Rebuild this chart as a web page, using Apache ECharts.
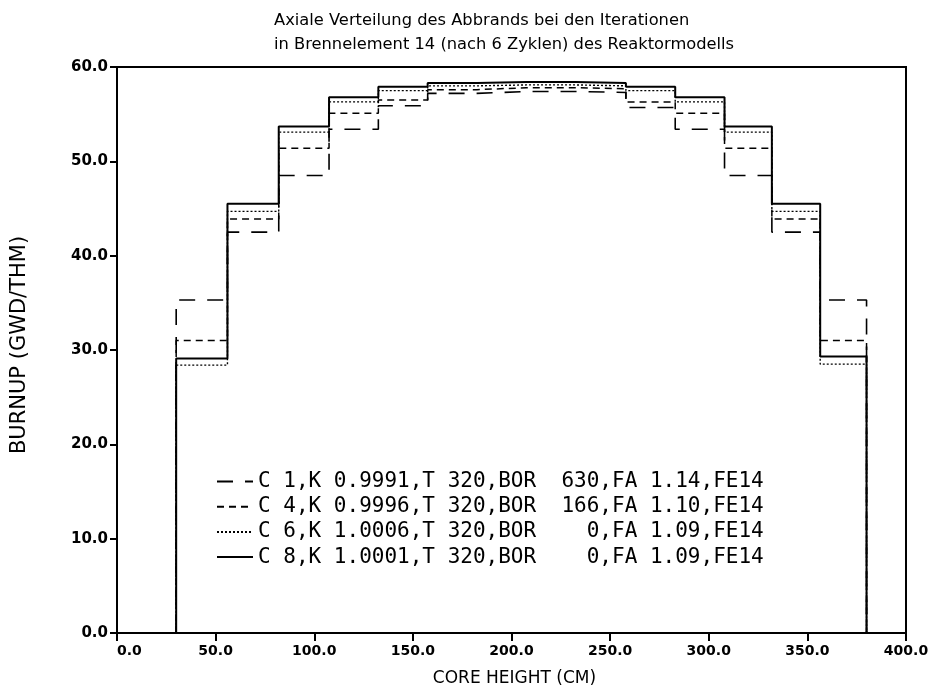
<!DOCTYPE html>
<html>
<head>
<meta charset="utf-8">
<script src="https://cdn.jsdelivr.net/npm/echarts@6/dist/echarts.min.js"></script>
<style>html,body{margin:0;padding:0;background:#fff}#c{width:940px;height:697px}</style>
</head>
<body>
<div id="c"></div>
<script>
// Node boundaries along core height (cm)
var boundaries = [30, 56, 82, 107.5, 132.5, 157.5, 182.5, 207.5, 232.5, 258, 283, 308, 332, 356.5, 380];
var seriesNames = [
  'C 1,K 0.9991,T 320,BOR  630,FA 1.14,FE14',
  'C 4,K 0.9996,T 320,BOR  166,FA 1.10,FE14',
  'C 6,K 1.0006,T 320,BOR    0,FA 1.09,FE14',
  'C 8,K 1.0001,T 320,BOR    0,FA 1.09,FE14'
];
var burnupC1 = [35.3, 42.5, 48.5, 53.4, 55.9, 57.2, 57.4, 57.4, 57.3, 55.7, 53.4, 48.5, 42.5, 35.3];
var burnupC4 = [31.0, 43.9, 51.4, 55.1, 56.5, 57.6, 57.8, 57.8, 57.7, 56.3, 55.1, 51.4, 43.9, 31.0];
var burnupC6 = [28.4, 44.7, 53.1, 56.3, 57.5, 58.0, 58.1, 58.1, 58.0, 57.5, 56.3, 53.1, 44.7, 28.5];
var burnupC8 = [29.1, 45.5, 53.7, 56.8, 57.9, 58.3, 58.4, 58.4, 58.3, 57.9, 56.8, 53.7, 45.5, 29.3];
var xTicks = [0, 50, 100, 150, 200, 250, 300, 350, 400];
var yTicks = [0, 10, 20, 30, 40, 50, 60];

function stepPoints(vals) {
  var pts = [[boundaries[0], 0]];
  for (var i = 0; i < vals.length; i++) {
    pts.push([boundaries[i], vals[i]]);
    pts.push([boundaries[i + 1], vals[i]]);
  }
  pts.push([boundaries[boundaries.length - 1], 0]);
  return pts;
}

var FONT = 'DejaVu Sans';
var MONO = 'DejaVu Sans Mono';
var styles = [
  {type: [16, 12], width: 1.6},
  {type: [7, 5], width: 1.5},
  {type: [2, 2], width: 1.4},
  {type: 'solid', width: 2}
];
var allVals = [burnupC1, burnupC4, burnupC6, burnupC8];

var chart = echarts.init(document.getElementById('c'), null, {renderer: 'canvas'});
chart.setOption({
  backgroundColor: '#fff',
  animation: false,
  title: {
    text: 'Axiale Verteilung des Abbrands bei den Iterationen\nin Brennelement 14 (nach 6 Zyklen) des Reaktormodells',
    left: 269, top: 4,
    textStyle: {fontFamily: FONT, fontSize: 16.3, fontWeight: 'normal', color: '#000', lineHeight: 24}
  },
  legend: {
    orient: 'vertical', left: 211, top: 466,
    itemWidth: 36, itemHeight: 14, itemGap: 4.2,
    itemStyle: {opacity: 0, color: 'transparent', borderWidth: 0},
    textStyle: {fontFamily: MONO, fontSize: 21, color: '#000', lineHeight: 20},
    data: seriesNames
  },
  grid: {left: 117, right: 34, top: 67, bottom: 64, show: true, borderColor: '#000', borderWidth: 2, backgroundColor: 'transparent'},
  xAxis: {
    type: 'value', min: xTicks[0], max: xTicks[xTicks.length - 1], interval: 50,
    name: 'CORE HEIGHT (CM)', nameLocation: 'middle', nameGap: 37,
    nameTextStyle: {fontFamily: FONT, fontSize: 17, color: '#000', padding: [0, 0, 0, 6]},
    axisLine: {lineStyle: {color: '#000', width: 2}},
    axisTick: {show: true, inside: false, length: 8, lineStyle: {color: '#000', width: 2}},
    axisLabel: {fontFamily: FONT, fontSize: 14, fontWeight: 'bold', color: '#000', margin: 11,
      formatter: function (v) { return v.toFixed(1); }, alignMinLabel: 'left'},
    splitLine: {show: false}
  },
  yAxis: {
    type: 'value', min: yTicks[0], max: yTicks[yTicks.length - 1], interval: 10,
    name: 'BURNUP (GWD/THM)', nameLocation: 'middle', nameGap: 87,
    nameTextStyle: {fontFamily: FONT, fontSize: 21, color: '#000', padding: [0, 0, 0, 10]},
    axisLine: {lineStyle: {color: '#000', width: 2}},
    axisTick: {show: true, inside: false, length: 7, lineStyle: {color: '#000', width: 2}},
    axisLabel: {fontFamily: FONT, fontSize: 15, fontWeight: 'bold', color: '#000', margin: 9,
      formatter: function (v) { return v.toFixed(1); }},
    splitLine: {show: false}
  },
  series: allVals.map(function (vals, i) {
    return {
      name: seriesNames[i], type: 'line', data: stepPoints(vals),
      symbol: 'none', showSymbol: false,
      lineStyle: {color: '#000', width: styles[i].width, type: styles[i].type},
      itemStyle: {color: '#000'},
      z: 2 + i
    };
  })
});
</script>
</body>
</html>
